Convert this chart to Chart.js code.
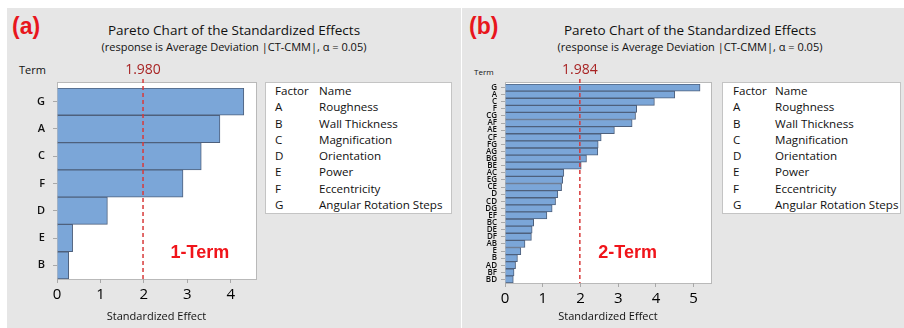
<!DOCTYPE html>
<html>
<head>
<meta charset="utf-8">
<script src="https://cdn.jsdelivr.net/npm/chart.js@4/dist/chart.umd.min.js"></script>
<style>
  body { margin: 0; background: #fff; width: 904px; height: 328px; overflow: hidden; position: relative; font-family: "Open Sans", "Noto Sans", sans-serif; color: #111; }
  .panel { position: absolute; top: 8px; height: 320px; background: #e6e6e6; }
  .abs { position: absolute; white-space: nowrap; }
  .tag { font: bold 23px "Liberation Sans", Arial, sans-serif; color: #e8161d; }
  .title { font-size: 13.5px; transform: translateX(-50%); color: #111; }
  .sub { font-size: 11px; transform: translateX(-50%); color: #111; }
  .legend { position: absolute; background: #fff; border: 1px solid #c4c4c4; font-size: 11.6px; line-height: 16.3px; color: #111; }
  .legend div { white-space: nowrap; }
  canvas { position: absolute; top: 0; }
</style>
</head>
<body>
<div class="panel" style="left:7px;width:454px;"></div>
<div class="panel" style="left:462px;width:442px;"></div>

<div class="abs tag" style="left:12px;top:13px;">(a)</div>
<div class="abs title" style="left:234px;top:21px;">Pareto Chart of the Standardized Effects</div>
<div class="abs sub" style="left:234px;top:39px;">(response is Average Deviation |CT-CMM|, α = 0.05)</div>
<div class="abs" style="left:19px;top:62px;font-size:11px;">Term</div>

<div class="abs tag" style="left:469px;top:13px;">(b)</div>
<div class="abs title" style="left:690px;top:21px;">Pareto Chart of the Standardized Effects</div>
<div class="abs sub" style="left:690px;top:39px;">(response is Average Deviation |CT-CMM|, α = 0.05)</div>
<div class="abs" style="left:474px;top:66px;font-size:8px;">Term</div>

<div class="legend" id="legA" style="left:265px;top:82px;width:185px;height:130px;"></div>
<div class="legend" id="legB" style="left:722px;top:82px;width:177px;height:130px;"></div>

<canvas id="chartA" width="462" height="328" style="left:0;"></canvas>
<canvas id="chartB" width="442" height="328" style="left:462px;"></canvas>

<script>
// factors
const factorCodes = ['A', 'B', 'C', 'D', 'E', 'F', 'G'];
const factorNames = ['Roughness', 'Wall Thickness', 'Magnification', 'Orientation', 'Power', 'Eccentricity', 'Angular Rotation Steps'];

// (a) 1-term model
const termsA = ['G', 'A', 'C', 'F', 'D', 'E', 'B'];
const effectsA = [4.30, 3.75, 3.32, 2.90, 1.16, 0.36, 0.27];
const critA = 1.980;
const ticksA = [0, 1, 2, 3, 4];
const maxA = 4.58;

// (b) 2-term model
const termsB = ['G', 'A', 'C', 'F', 'CG', 'AF', 'AE', 'CF', 'FG', 'AG', 'BG', 'BE', 'AC', 'EG',
  'CE', 'D', 'CD', 'DG', 'EF', 'BC', 'DE', 'DF', 'AB', 'E', 'B', 'AD', 'BF', 'BD'];
const effectsB = [5.17, 4.50, 3.96, 3.49, 3.46, 3.37, 2.90, 2.55, 2.47, 2.46, 2.16, 2.02, 1.56, 1.53,
  1.50, 1.40, 1.34, 1.25, 1.11, 0.76, 0.72, 0.70, 0.53, 0.42, 0.33, 0.28, 0.24, 0.22];
const critB = 1.984;
const ticksB = [0, 1, 2, 3, 4, 5];
const maxB = 5.46;

function fillLegend(id, pad, w) {
  let el = document.getElementById(id);
  let row = (a, b) => '<div style="display:flex;padding-left:' + pad + 'px;"><div style="width:' + w + 'px">' + a + '</div><div>' + b + '</div></div>';
  let html = row('Factor', 'Name');
  for (let i = 0; i < factorCodes.length; i++) html += row(factorCodes[i], factorNames[i]);
  el.innerHTML = html;
}
fillLegend('legA', 9, 44);
fillLegend('legB', 10, 42);

// frame, critical line and label
const paretoDeco = {
  id: 'paretoDeco',
  beforeDraw(chart, args, o) {
    let a = chart.chartArea, c = chart.ctx;
    c.save();
    c.fillStyle = '#fff';
    c.fillRect(a.left, a.top - o.gap, a.right - a.left, a.bottom - a.top + o.gap);
    c.strokeStyle = '#b9b9b9';
    c.lineWidth = 1;
    c.strokeRect(a.left + 0.5, a.top - o.gap + 0.5, a.right - a.left, a.bottom - a.top + o.gap);
    c.restore();
  },
  afterDatasetsDraw(chart, args, o) {
    let a = chart.chartArea, c = chart.ctx;
    let x = chart.scales.x.getPixelForValue(o.crit);
    c.save();
    c.strokeStyle = '#d83a3a';
    c.lineWidth = 1.5;
    c.setLineDash([4, 3]);
    c.beginPath();
    c.moveTo(x, a.top - o.gap - 3);
    c.lineTo(x, a.bottom);
    c.stroke();
    c.setLineDash([]);
    c.fillStyle = '#a82424';
    c.font = '14px "Open Sans"';
    c.textAlign = 'center';
    c.textBaseline = 'middle';
    c.fillText(o.crit.toFixed(3), x, a.top - o.gap - 12);
    c.fillStyle = '#f0141a';
    c.font = 'bold 18px "Liberation Sans", Arial';
    c.fillText(o.label, chart.scales.x.getPixelForValue(o.labelX), o.labelY);
    c.restore();
  }
};

function makeChart(id, terms, effects, crit, ticks, xMax, s) {
  return new Chart(document.getElementById(id), {
    type: 'bar',
    data: {
      labels: terms,
      datasets: [{
        data: effects,
        backgroundColor: 'rgb(123,166,216)',
        borderColor: 'rgb(78,96,124)',
        borderWidth: 1,
        barPercentage: 1,
        categoryPercentage: 1
      }]
    },
    options: {
      indexAxis: 'y',
      responsive: false,
      animation: false,
      devicePixelRatio: 1,
      layout: { padding: { top: s.top, right: s.right, bottom: 0, left: 0 } },
      plugins: {
        legend: { display: false },
        tooltip: { enabled: false },
        paretoDeco: { crit: crit, gap: s.gap, label: s.label, labelX: s.labelX, labelY: s.labelY }
      },
      scales: {
        x: {
          min: 0,
          max: xMax,
          afterBuildTicks: sc => { sc.ticks = ticks.map(v => ({ value: v })); },
          afterFit: sc => { sc.height = s.xh; },
          border: { display: false },
          grid: { drawOnChartArea: false, tickLength: 4, color: '#a8a8a8' },
          ticks: { color: '#000', font: { family: 'Open Sans', size: 15 }, padding: 3 },
          title: { display: true, text: 'Standardized Effect', color: '#111', font: { family: 'Open Sans', size: 11 }, padding: { bottom: 5 } }
        },
        y: {
          afterFit: sc => { sc.width = s.yw; },
          border: { display: false },
          grid: { drawOnChartArea: false, offset: false, tickLength: 4, color: '#a8a8a8' },
          ticks: { autoSkip: false, color: '#111', font: { family: 'Open Sans', size: s.yfont, weight: '600' }, padding: s.ypad }
        }
      }
    },
    plugins: [paretoDeco]
  });
}

makeChart('chartA', termsA, effectsA, critA, ticksA, maxA,
  { top: 88, right: 206, gap: 6, xh: 49, yw: 57, yfont: 11, ypad: 8, label: '1-Term', labelX: 3.29, labelY: 253 });
makeChart('chartB', termsB, effectsB, critB, ticksB, maxB,
  { top: 84, right: 193, gap: 2, xh: 45, yw: 43, yfont: 8, ypad: 4, label: '2-Term', labelX: 3.25, labelY: 253 });
</script>
</body>
</html>
